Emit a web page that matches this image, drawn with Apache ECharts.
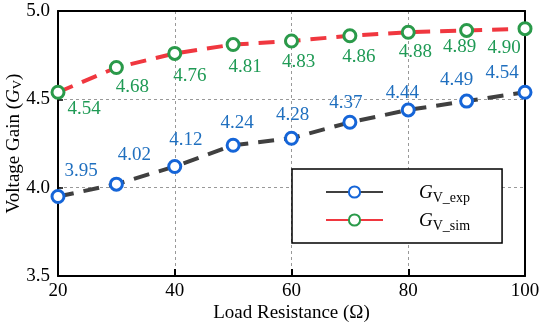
<!DOCTYPE html>
<html><head><meta charset="utf-8">
<script src="https://cdn.jsdelivr.net/npm/echarts@6/dist/echarts.min.js"></script>
<style>html,body{margin:0;padding:0;background:#fff}#c{width:550px;height:328px}</style>
</head><body><div id="c"></div>
<script>
const resistance = [20, 30, 40, 50, 60, 70, 80, 90, 100];
const gainExp = [3.95, 4.02, 4.12, 4.24, 4.28, 4.37, 4.44, 4.49, 4.54];
const gainSim = [4.54, 4.68, 4.76, 4.81, 4.83, 4.86, 4.88, 4.89, 4.90];
const xTicks = [20, 40, 60, 80, 100];
const yTicks = [3.5, 4.0, 4.5, 5.0];

// label nudges (style only)
const expShift = [[23, -25], [18, -29], [11, -26], [4, -22], [1, -23], [-4, -19], [-6, -17], [-10, -21], [-23, -19]];
const simShift = [[26, 17], [16, 19], [15, 23], [12, 22], [7, 21], [9, 21], [7, 20], [-7, 17], [-21, 19]];

const FONT = 'Liberation Serif';
const chart = echarts.init(document.getElementById('c'));
const pair = (xs, ys) => xs.map((x, i) => [x, ys[i]]);
const rich = {
  a: {fontFamily: FONT, fontSize: 19, color: '#000'},
  i: {fontFamily: FONT, fontSize: 19, fontStyle: 'italic', color: '#000'},
  s: {fontFamily: FONT, fontSize: 13, color: '#000', padding: [7, 0, 0, 0]}
};
const lrich = {
  i: {fontFamily: FONT, fontSize: 19, fontStyle: 'italic', color: '#000', lineHeight: 20, verticalAlign: 'bottom'},
  s: {fontFamily: FONT, fontSize: 14, color: '#000', lineHeight: 20, verticalAlign: 'bottom', padding: [0, 0, -3, 0]}
};
chart.setOption({
  animation: false,
  grid: {left: 58, right: 25, top: 11, bottom: 52, outerBoundsMode: 'none', containLabel: false},
  xAxis: [{
    type: 'value', min: 20, max: 100, interval: 20,
    name: 'Load Resistance (Ω)', nameLocation: 'middle', nameGap: 28, nameMoveOverlap: false,
    nameTextStyle: {fontFamily: FONT, fontSize: 19, color: '#000'},
    axisLine: {lineStyle: {color: '#000', width: 2}},
    axisTick: {inside: true, length: 7, lineStyle: {color: '#000', width: 2}},
    axisLabel: {fontFamily: FONT, fontSize: 19, color: '#000', margin: 6,
      formatter: v => xTicks.includes(v) ? String(v) : ''},
    splitLine: {show: true, lineStyle: {type: [3, 3], color: '#999', width: 1}}
  }, {
    type: 'value', position: 'top', min: 20, max: 100,
    axisLine: {show: true, lineStyle: {color: '#000', width: 2}},
    axisTick: {show: false}, axisLabel: {show: false}, splitLine: {show: false}
  }],
  yAxis: [{
    type: 'value', min: 3.5, max: 5.0, interval: 0.5,
    name: '{a|Voltage Gain (}{i|G}{s|V}{a|)}', nameLocation: 'middle', nameGap: 34, nameMoveOverlap: false,
    nameTextStyle: {rich: rich},
    axisLine: {show: true, lineStyle: {color: '#000', width: 2}},
    axisTick: {show: true, inside: true, length: 5, lineStyle: {color: '#000', width: 1.5}},
    axisLabel: {fontFamily: FONT, fontSize: 19, color: '#000', margin: 8,
      formatter: v => yTicks.some(t => Math.abs(t - v) < 1e-9) ? v.toFixed(1) : ''},
    splitLine: {show: true, lineStyle: {type: [3, 3], color: '#999', width: 1}}
  }, {
    type: 'value', position: 'right', min: 3.5, max: 5.0,
    axisLine: {show: true, lineStyle: {color: '#000', width: 2}},
    axisTick: {show: false}, axisLabel: {show: false}, splitLine: {show: false}
  }],
  legend: {
    orient: 'vertical', left: 292, top: 169,
    padding: [14, 32, 10, 33], itemGap: 6,
    backgroundColor: '#fff', borderColor: '#000', borderWidth: 1.5,
    itemWidth: 57, itemHeight: 14,
    lineStyle: {type: 'solid'},
    data: ['exp', 'sim'],
    formatter: n => n === 'exp' ? '{i|G}{s|V_exp}' : '{i|G}{s|V_sim}',
    textStyle: {rich: lrich, padding: [0, 0, 0, 31]}
  },
  series: [{
    name: 'exp', type: 'line', data: pair(resistance, gainExp),
    symbol: 'circle', symbolSize: 12, z: 3,
    lineStyle: {color: '#404040', width: 4, type: [16, 10]},
    itemStyle: {color: '#fff', borderColor: '#1565d8', borderWidth: 3},
    label: {show: true, position: 'inside', fontFamily: FONT, fontSize: 19, color: '#1f6fbf',
      formatter: p => p.value[1].toFixed(2)},
    labelLayout: p => ({dx: expShift[p.dataIndex][0], dy: expShift[p.dataIndex][1]})
  }, {
    name: 'sim', type: 'line', data: pair(resistance, gainSim),
    symbol: 'circle', symbolSize: 12, z: 3,
    lineStyle: {color: '#f0373f', width: 4, type: [16, 10]},
    itemStyle: {color: '#fff', borderColor: '#2a9a4a', borderWidth: 3},
    label: {show: true, position: 'inside', fontFamily: FONT, fontSize: 19, color: '#1f9a55',
      formatter: p => p.value[1].toFixed(2)},
    labelLayout: p => ({dx: simShift[p.dataIndex][0], dy: simShift[p.dataIndex][1]})
  }]
});
</script></body></html>
